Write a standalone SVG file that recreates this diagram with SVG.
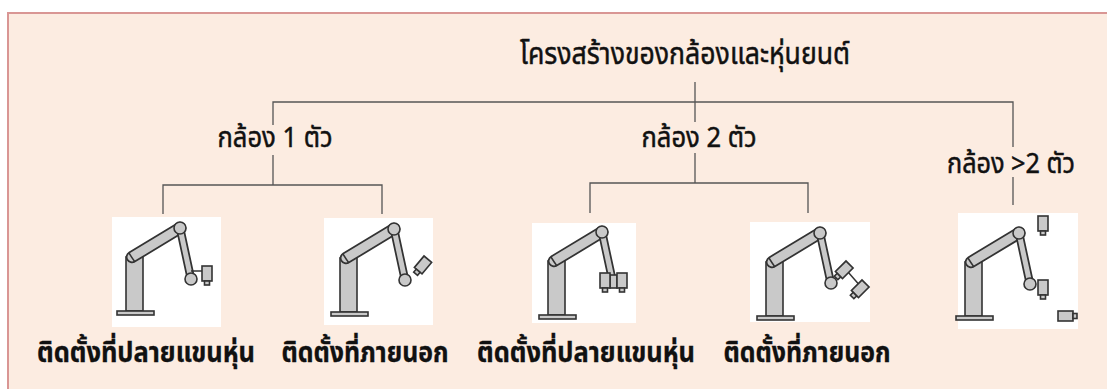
<svg xmlns="http://www.w3.org/2000/svg" width="1107" height="389" viewBox="0 0 1107 389">
  <style>
    .frame { fill: #fcece1; stroke: #d99694; stroke-width: 2; }
    .wire { fill: none; stroke: #555; stroke-width: 1.3; }
    .lbl { font-family: "Noto Sans Thai", "Tahoma", "Noto Sans", "DejaVu Sans", sans-serif; font-size: 28px; fill: #111; stroke: #111; stroke-width: 0.5; text-anchor: middle; }
    .head { font-size: 30px; }
    .cap { font-weight: bold; stroke-width: 0.3; }
    .card { fill: #fff; }
    .part { fill: #c9c9c9; stroke: #333; stroke-width: 1.6; }
    .tubeO { stroke: #333; stroke-linecap: round; fill: none; }
    .tubeI { stroke: #c9c9c9; stroke-linecap: round; fill: none; }
    .link { stroke: #333; stroke-width: 1.5; fill: none; }
  </style>
  <defs>
    <!-- articulated arm drawn relative to the top-left of its white card -->
    <g id="arm">
      <rect class="part" x="14" y="40" width="17" height="54"/>
      <line class="tubeO" x1="20" y1="40" x2="68" y2="11" stroke-width="12.5"/>
      <line class="tubeI" x1="20" y1="40" x2="68" y2="11" stroke-width="9"/>
      <path class="link" d="M17 36 Q20 41 23 45"/>
      <line class="tubeO" x1="68" y1="11" x2="79" y2="62" stroke-width="8.5"/>
      <line class="tubeI" x1="68" y1="11" x2="79" y2="62" stroke-width="5"/>
      <circle class="part" cx="68" cy="11" r="6"/>
      <rect class="part" x="5" y="94" width="37" height="4"/>
    </g>
    <circle id="wrist" class="part" r="6"/>
    <!-- camera pointing down: body and lens -->
    <g id="cam">
      <rect class="part" x="0" y="0" width="10" height="15"/>
      <rect class="part" x="2.5" y="15" width="5" height="4"/>
    </g>
  </defs>

  <rect class="frame" x="8" y="13" width="1110" height="390"/>

  <g id="connectors">
    <polyline class="wire" points="695,82 695,102"/>
    <polyline class="wire" points="273,125 273,102 1013,102 1013,147"/>
    <polyline class="wire" points="695,102 695,122"/>
    <polyline class="wire" points="273,155 273,185"/>
    <polyline class="wire" points="163,214 163,185 382,185 382,214"/>
    <polyline class="wire" points="695,153 695,183"/>
    <polyline class="wire" points="590,213 590,183 808,183 808,213"/>
    <polyline class="wire" points="1013,177 1013,205"/>
  </g>

  <g id="title">
    <text class="lbl head" x="685" y="64" textLength="330" lengthAdjust="spacingAndGlyphs">โครงสร้างของกล้องและหุ่นยนต์</text>
  </g>
  <g id="one-camera">
    <text class="lbl" x="275" y="147" textLength="115" lengthAdjust="spacingAndGlyphs">กล้อง 1 ตัว</text>
  </g>
  <g id="two-cameras">
    <text class="lbl" x="699" y="147" textLength="115" lengthAdjust="spacingAndGlyphs">กล้อง 2 ตัว</text>
  </g>
  <g id="many-cameras">
    <text class="lbl" x="1011" y="173" textLength="128" lengthAdjust="spacingAndGlyphs">กล้อง &gt;2 ตัว</text>
  </g>

  <!-- one camera, mounted on the arm end -->
  <g id="one-eye-in-hand">
    <rect class="card" x="112" y="217" width="109" height="110"/>
    <use href="#arm" x="112" y="217"/>
    <line class="link" x1="191" y1="271" x2="202" y2="271"/>
    <use href="#wrist" x="191" y="279"/>
    <use href="#cam" x="202" y="266"/>
    <text class="lbl cap" x="146" y="362" textLength="218" lengthAdjust="spacingAndGlyphs">ติดตั้งที่ปลายแขนหุ่น</text>
  </g>

  <!-- one camera, fixed outside -->
  <g id="one-eye-to-hand">
    <rect class="card" x="324" y="218" width="109" height="107"/>
    <use href="#arm" x="326" y="218"/>
    <use href="#wrist" x="405" y="280"/>
    <use href="#cam" transform="translate(424 256) rotate(40)"/>
    <text class="lbl cap" x="365" y="362" textLength="167" lengthAdjust="spacingAndGlyphs">ติดตั้งที่ภายนอก</text>
  </g>

  <!-- two cameras, mounted on the arm end -->
  <g id="two-eye-in-hand">
    <rect class="card" x="532" y="223" width="104" height="100"/>
    <use href="#arm" x="534" y="221"/>
    <rect class="part" x="610" y="275" width="7" height="13"/>
    <use href="#cam" x="600" y="273"/>
    <use href="#cam" x="617" y="273"/>
    <text class="lbl cap" x="586" y="362" textLength="218" lengthAdjust="spacingAndGlyphs">ติดตั้งที่ปลายแขนหุ่น</text>
  </g>

  <!-- two cameras, fixed outside -->
  <g id="two-eye-to-hand">
    <rect class="card" x="750" y="222" width="120" height="100"/>
    <use href="#arm" x="752" y="222"/>
    <use href="#wrist" x="831" y="283"/>
    <line class="link" x1="848" y1="272" x2="862" y2="288"/>
    <use href="#cam" transform="translate(846 261) rotate(45)"/>
    <use href="#cam" transform="translate(862 280) rotate(45)"/>
    <text class="lbl cap" x="807" y="362" textLength="167" lengthAdjust="spacingAndGlyphs">ติดตั้งที่ภายนอก</text>
  </g>

  <!-- several cameras -->
  <g id="multi-camera">
    <rect class="card" x="958" y="213" width="120" height="116"/>
    <use href="#arm" x="951" y="222"/>
    <use href="#wrist" x="1030" y="284"/>
    <use href="#cam" x="1038" y="216"/>
    <use href="#cam" x="1038" y="280"/>
    <use href="#cam" transform="translate(1058 321) rotate(-90)"/>
  </g>
</svg>
